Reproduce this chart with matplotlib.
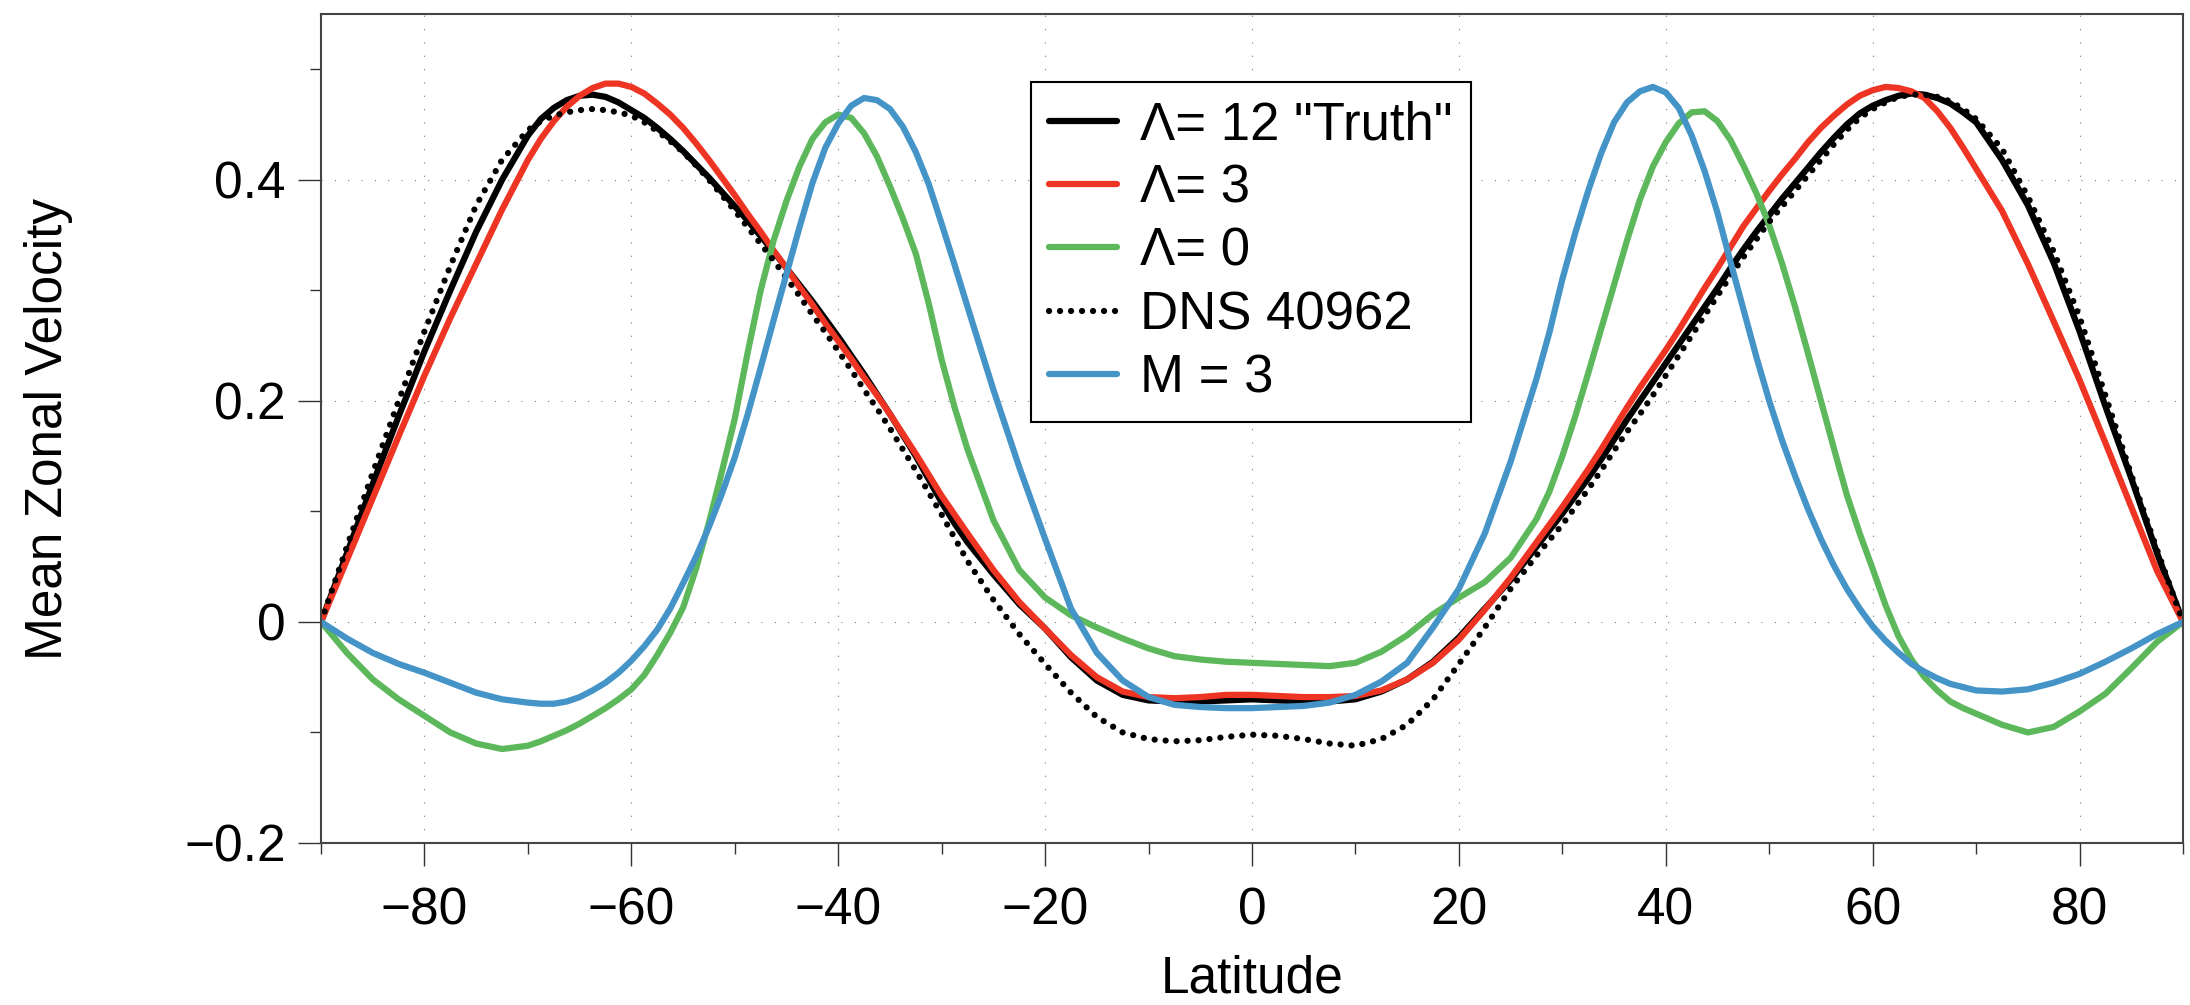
import matplotlib
matplotlib.use("Agg")
import matplotlib.pyplot as plt
from matplotlib.ticker import MultipleLocator, FuncFormatter

plt.rcParams.update({
    "font.family": ["Liberation Sans", "DejaVu Sans"],
    "font.size": 37,
    "axes.unicode_minus": True,
})

# ----------------------------------------------------------------------
# data (latitude in degrees; finer near the jets)
# ----------------------------------------------------------------------
LAT = [-90, -87.5, -85, -82.5, -80, -77.5, -75, -72.5, -70,
       -68.75, -67.5, -66.25, -65, -63.75, -62.5, -61.25, -60,
       -58.75, -57.5, -56.25, -55, -53.75, -52.5, -51.25, -50,
       -48.75, -47.5, -46.25, -45, -43.75, -42.5, -41.25, -40,
       -38.75, -37.5, -36.25, -35, -33.75, -32.5, -31.25, -30,
       -28.75, -27.5,
       -25, -22.5, -20, -17.5, -15, -12.5, -10, -7.5, -5, -2.5, 0,
       2.5, 5, 7.5, 10, 12.5, 15, 17.5, 20, 22.5, 25,
       27.5, 28.75, 30, 31.25, 32.5, 33.75, 35, 36.25, 37.5, 38.75,
       40, 41.25, 42.5, 43.75, 45, 46.25, 47.5, 48.75, 50, 51.25,
       52.5, 53.75, 55, 56.25, 57.5, 58.75, 60, 61.25, 62.5, 63.75,
       65, 66.25, 67.5, 68.75,
       70, 72.5, 75, 77.5, 80, 82.5, 85, 87.5, 90]

truth_12 = [0.000, 0.062, 0.125, 0.186, 0.245, 0.300, 0.353, 0.400, 0.440,
            0.455, 0.465, 0.472, 0.476, 0.477, 0.475, 0.470, 0.463,
            0.456, 0.447, 0.437, 0.426, 0.414, 0.402, 0.389, 0.376,
            0.363, 0.349, 0.335, 0.320, 0.305, 0.290, 0.274, 0.258,
            0.241, 0.224, 0.206, 0.188, 0.169, 0.150, 0.129, 0.108,
            0.089, 0.072,
            0.043, 0.016, -0.006, -0.032, -0.053, -0.066, -0.071, -0.072,
            -0.072, -0.071, -0.070, -0.071, -0.072, -0.072, -0.070, -0.063,
            -0.052, -0.036, -0.014, 0.012, 0.038,
            0.068, 0.083, 0.098, 0.114, 0.130, 0.147, 0.165, 0.183, 0.200,
            0.217, 0.234, 0.251, 0.268, 0.285, 0.302, 0.320, 0.337, 0.353,
            0.368, 0.383, 0.397, 0.411, 0.425, 0.438, 0.450, 0.460, 0.467,
            0.472, 0.476, 0.478, 0.477, 0.474, 0.469, 0.461,
            0.452, 0.418, 0.377, 0.325, 0.263, 0.195, 0.130, 0.062, 0.000]

lam_3 = [0.000, 0.056, 0.112, 0.168, 0.223, 0.275, 0.324, 0.373, 0.418,
         0.437, 0.453, 0.466, 0.476, 0.483, 0.487, 0.487, 0.484,
         0.478, 0.469, 0.459, 0.447, 0.433, 0.418, 0.402, 0.386,
         0.369, 0.353, 0.336, 0.320, 0.303, 0.287, 0.270, 0.254,
         0.238, 0.221, 0.205, 0.188, 0.170, 0.152, 0.133, 0.114,
         0.097, 0.080,
         0.047, 0.018, -0.006, -0.030, -0.050, -0.063, -0.068, -0.069,
         -0.068, -0.066, -0.066, -0.067, -0.068, -0.068, -0.067, -0.062,
         -0.052, -0.037, -0.016, 0.011, 0.040,
         0.072, 0.088, 0.104, 0.121, 0.138, 0.156, 0.175, 0.194, 0.212,
         0.229, 0.246, 0.264, 0.283, 0.302, 0.320, 0.339, 0.358, 0.374,
         0.390, 0.405, 0.419, 0.434, 0.447, 0.458, 0.468, 0.476, 0.481,
         0.484, 0.483, 0.480, 0.474, 0.462, 0.447, 0.429,
         0.410, 0.372, 0.324, 0.272, 0.219, 0.162, 0.104, 0.046, 0.000]

lam_0 = [0.000, -0.028, -0.052, -0.070, -0.085, -0.100, -0.110, -0.115, -0.112,
         -0.108, -0.103, -0.098, -0.092, -0.085, -0.078, -0.070, -0.061,
         -0.048, -0.030, -0.010, 0.013, 0.048, 0.090, 0.136, 0.184,
         0.244, 0.300, 0.345, 0.381, 0.412, 0.437, 0.452, 0.459,
         0.456, 0.442, 0.421, 0.394, 0.365, 0.333, 0.288, 0.237,
         0.194, 0.156,
         0.092, 0.047, 0.022, 0.006, -0.005, -0.015, -0.024, -0.031,
         -0.034, -0.036, -0.037, -0.038, -0.039, -0.040, -0.037, -0.027,
         -0.012, 0.007, 0.022, 0.036, 0.058,
         0.093, 0.118, 0.150, 0.186, 0.225, 0.265, 0.305, 0.345, 0.382,
         0.412, 0.434, 0.451, 0.461, 0.462, 0.453, 0.436, 0.413, 0.388,
         0.359, 0.324, 0.285, 0.243, 0.200, 0.157, 0.115, 0.080, 0.048,
         0.015, -0.013, -0.034, -0.050, -0.062, -0.072, -0.078,
         -0.083, -0.093, -0.100, -0.095, -0.081, -0.065, -0.042, -0.018, 0.000]

dns_40962 = [0.000, 0.068, 0.135, 0.200, 0.263, 0.322, 0.377, 0.418, 0.445,
             0.453, 0.458, 0.461, 0.463, 0.464, 0.463, 0.461, 0.458,
             0.452, 0.444, 0.435, 0.425, 0.413, 0.400, 0.386, 0.372,
             0.357, 0.342, 0.327, 0.311, 0.295, 0.278, 0.262, 0.245,
             0.228, 0.210, 0.193, 0.175, 0.156, 0.137, 0.117, 0.097,
             0.076, 0.055,
             0.020, -0.011, -0.038, -0.064, -0.086, -0.100, -0.106, -0.108,
             -0.107, -0.104, -0.102, -0.103, -0.106, -0.110, -0.112, -0.106,
             -0.093, -0.070, -0.038, -0.005, 0.030,
             0.060, 0.074, 0.088, 0.104, 0.120, 0.137, 0.155, 0.172, 0.188,
             0.205, 0.223, 0.241, 0.259, 0.277, 0.295, 0.313, 0.330, 0.346,
             0.362, 0.376, 0.390, 0.404, 0.418, 0.432, 0.445, 0.456, 0.464,
             0.470, 0.475, 0.477, 0.477, 0.475, 0.471, 0.464,
             0.455, 0.428, 0.385, 0.335, 0.276, 0.205, 0.133, 0.065, 0.000]

m_3 = [0.000, -0.015, -0.028, -0.038, -0.046, -0.055, -0.064, -0.070, -0.073,
       -0.074, -0.074, -0.072, -0.068, -0.062, -0.055, -0.046, -0.035,
       -0.022, -0.007, 0.012, 0.035, 0.059, 0.086, 0.116, 0.149,
       0.188, 0.230, 0.273, 0.315, 0.357, 0.397, 0.429, 0.451,
       0.467, 0.474, 0.472, 0.464, 0.448, 0.425, 0.396, 0.360,
       0.323, 0.285,
       0.210, 0.140, 0.075, 0.012, -0.028, -0.053, -0.068, -0.075,
       -0.077, -0.078, -0.078, -0.077, -0.076, -0.073, -0.066, -0.054,
       -0.037, -0.005, 0.030, 0.080, 0.145,
       0.220, 0.262, 0.310, 0.352, 0.390, 0.424, 0.452, 0.470, 0.480,
       0.484, 0.479, 0.465, 0.440, 0.408, 0.370, 0.326, 0.283, 0.240,
       0.200, 0.164, 0.132, 0.102, 0.075, 0.051, 0.030, 0.012, -0.004,
       -0.017, -0.028, -0.038, -0.045, -0.051, -0.056, -0.059,
       -0.062, -0.063, -0.061, -0.055, -0.047, -0.036, -0.024, -0.011, 0.000]

LABELS = ['\u039b= 12 "Truth"', "\u039b= 3", "\u039b= 0", "DNS 40962", "M = 3"]

RED = "#EE3524"
GREEN = "#5CB85B"
BLUE = "#4594C8"
LW = 4.5

fig = plt.figure(figsize=(21.9, 10.05), dpi=100)
ax = fig.add_axes([0.1466, 0.1612, 0.8502, 0.8249])

solid = dict(lw=LW, solid_joinstyle="round", solid_capstyle="round")
ax.plot(LAT, truth_12, color="black", label=LABELS[0], **solid)
ax.plot(LAT, lam_3, color=RED, label=LABELS[1], **solid)
ax.plot(LAT, lam_0, color=GREEN, label=LABELS[2], **solid)
ax.plot(LAT, dns_40962, color="black", lw=LW, label=LABELS[3],
        linestyle=(0, (0.01, 1.75)), dash_capstyle="round")
ax.plot(LAT, m_3, color=BLUE, label=LABELS[4], **solid)

ax.set_xlim(-90, 90)
ax.set_ylim(-0.2, 0.55)

ax.xaxis.set_major_locator(MultipleLocator(20))
ax.xaxis.set_minor_locator(MultipleLocator(10))
ax.yaxis.set_major_locator(MultipleLocator(0.2))
ax.yaxis.set_minor_locator(MultipleLocator(0.1))


def fmt(v, _):
    v = round(v, 6)
    if v == 0:
        return "0"
    return f"{v:g}".replace("-", "\u2212")


ax.xaxis.set_major_formatter(FuncFormatter(fmt))
ax.yaxis.set_major_formatter(FuncFormatter(fmt))

ax.tick_params(which="major", direction="out", length=16.5, width=1.0,
               color="#333333", labelsize=37)
ax.tick_params(axis="x", which="major", pad=15)
ax.tick_params(axis="y", which="major", pad=9)
ax.tick_params(which="minor", direction="out", length=8, width=1.0,
               color="#333333")
ax.tick_params(top=False, right=False, which="both")

for s in ax.spines.values():
    s.set_linewidth(1.5)
    s.set_color("#444444")

ax.grid(True, which="major", linestyle=(0, (1, 11)), linewidth=0.8,
        color="#777777")

ax.set_xlabel("Latitude", fontsize=37)
ax.set_ylabel("Mean Zonal Velocity", fontsize=37)
ax.xaxis.set_label_coords(0.5, -0.135)
ax.yaxis.set_label_coords(-0.133, 0.5)

leg = ax.legend(loc="upper left", bbox_to_anchor=(0.3813, 0.918),
                borderaxespad=0, fancybox=False, framealpha=1,
                edgecolor="black", fontsize=38, handlelength=1.27,
                handletextpad=0.45, labelspacing=0.25, borderpad=0.35)
leg.get_frame().set_linewidth(1.5)

fig.savefig("out.png", dpi=100)
